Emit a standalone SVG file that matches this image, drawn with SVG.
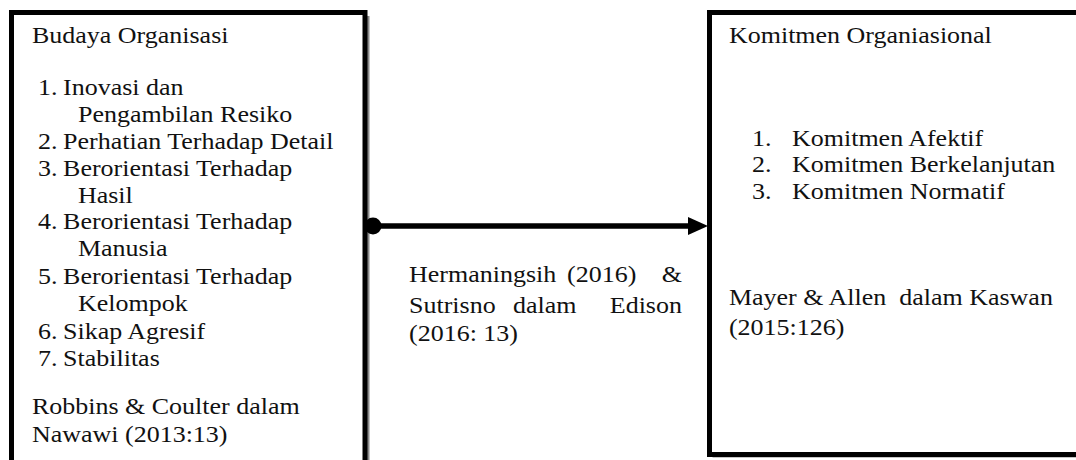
<svg xmlns="http://www.w3.org/2000/svg" width="1076" height="460" viewBox="0 0 1076 460">
<style>
.t{font-family:"Liberation Serif","Times New Roman",serif;font-size:23px;fill:#111;}
.box{fill:#fff;stroke:#000;stroke-width:5;}
.sh{fill:#8a8a8a;}
</style>
<defs>
<marker id="ah" markerUnits="userSpaceOnUse" markerWidth="22" markerHeight="20" refX="0" refY="9" orient="auto">
<path d="M0,0 L20,9 L0,18 Z" fill="#000"/>
</marker>
</defs>
<rect width="1076" height="460" fill="#fff"/>
<g id="node-budaya">
<rect class="sh" x="16" y="16" width="353.5" height="470"/>
<rect class="box" x="11.5" y="12.5" width="353.5" height="470"/>
<g transform="scale(1.13 1)">
<text class="t" x="28.3" y="43">Budaya Organisasi</text>
<text class="t" x="33.6" y="95">1.</text><text class="t" x="55.8" y="95">Inovasi dan</text>
<text class="t" x="69" y="122">Pengambilan Resiko</text>
<text class="t" x="33.6" y="149">2.</text><text class="t" x="55.8" y="149">Perhatian Terhadap Detail</text>
<text class="t" x="33.6" y="176">3.</text><text class="t" x="55.8" y="176">Berorientasi Terhadap</text>
<text class="t" x="69" y="203">Hasil</text>
<text class="t" x="33.6" y="229">4.</text><text class="t" x="55.8" y="229">Berorientasi Terhadap</text>
<text class="t" x="69" y="256">Manusia</text>
<text class="t" x="33.6" y="284">5.</text><text class="t" x="55.8" y="284">Berorientasi Terhadap</text>
<text class="t" x="69" y="311">Kelompok</text>
<text class="t" x="33.6" y="339">6.</text><text class="t" x="55.8" y="339">Sikap Agresif</text>
<text class="t" x="33.6" y="366">7.</text><text class="t" x="55.8" y="366">Stabilitas</text>
<text class="t" x="28.3" y="414">Robbins &amp; Coulter dalam</text>
<text class="t" x="28.3" y="442">Nawawi (2013:13)</text>
</g>
</g>
<g id="node-komitmen">
<rect class="sh" x="712.5" y="15.5" width="400" height="442"/>
<rect class="box" x="709.5" y="12.5" width="400" height="442"/>
<g transform="scale(1.13 1)">
<text class="t" x="645.1" y="43">Komitmen Organiasional</text>
<text class="t" x="665.5" y="146">1.</text><text class="t" x="700.9" y="146">Komitmen Afektif</text>
<text class="t" x="665.5" y="172.5">2.</text><text class="t" x="700.9" y="172.5">Komitmen Berkelanjutan</text>
<text class="t" x="665.5" y="199">3.</text><text class="t" x="700.9" y="199">Komitmen Normatif</text>
<text class="t" x="645.1" y="305" xml:space="preserve">Mayer &amp; Allen  dalam Kaswan</text>
<text class="t" x="645.1" y="335">(2015:126)</text>
</g>
</g>
<g id="connectors">
<circle cx="373" cy="226" r="8.5" fill="#000"/>
<line x1="373" y1="226" x2="688" y2="226" stroke="#000" stroke-width="5.5" marker-end="url(#ah)"/>
</g>
<g id="edge-label" transform="scale(1.13 1)">
<text class="t" x="362" y="282">Hermaningsih</text>
<text class="t" x="501.8" y="282">(2016)</text>
<text class="t" x="603.5" y="282" text-anchor="end">&amp;</text>
<text class="t" x="362" y="313">Sutrisno</text>
<text class="t" x="454" y="313">dalam</text>
<text class="t" x="603.5" y="313" text-anchor="end">Edison</text>
<text class="t" x="362" y="341">(2016: 13)</text>
</g>
</svg>
